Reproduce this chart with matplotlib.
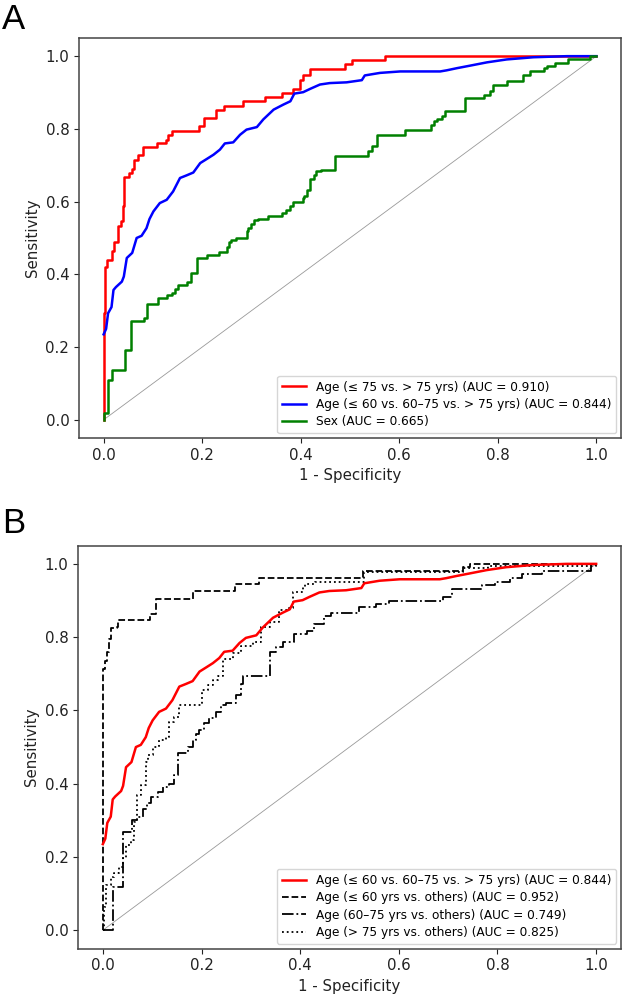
import numpy as np
import matplotlib
matplotlib.use("Agg")
import matplotlib.pyplot as plt

# ROC points (1 - specificity, sensitivity)
age75_fpr = [0, 0, 0.003, 0.007, 0.016, 0.021, 0.030, 0.035, 0.040, 0.042, 0.052, 0.057, 0.062, 0.070, 0.080,
             0.108, 0.126, 0.131, 0.138, 0.194, 0.204, 0.228, 0.245, 0.282, 0.327, 0.363, 0.385, 0.399, 0.405,
             0.419, 0.490, 0.504, 0.571, 1.0]
age75_tpr = [0, 0.293, 0.42, 0.44, 0.465, 0.488, 0.532, 0.546, 0.589, 0.669, 0.678, 0.690, 0.715, 0.727, 0.749,
             0.760, 0.770, 0.784, 0.795, 0.809, 0.829, 0.853, 0.864, 0.876, 0.887, 0.899, 0.910, 0.934, 0.947,
             0.966, 0.979, 0.990, 1.0, 1.0]

age3_fpr = [0, 0.005, 0.009, 0.016, 0.020, 0.025, 0.037, 0.041, 0.047, 0.058, 0.067, 0.077, 0.087, 0.093, 0.101,
            0.114, 0.128, 0.141, 0.155, 0.168, 0.182, 0.196, 0.209, 0.223, 0.236, 0.246, 0.263, 0.277, 0.290,
            0.311, 0.324, 0.345, 0.365, 0.379, 0.387, 0.405, 0.419, 0.439, 0.459, 0.493, 0.524, 0.530, 0.561,
            0.602, 0.683, 0.696, 0.717, 0.744, 0.778, 0.818, 0.872, 0.940, 1.0]
age3_tpr = [0.235, 0.250, 0.293, 0.310, 0.357, 0.365, 0.380, 0.394, 0.445, 0.459, 0.500, 0.506, 0.527, 0.552, 0.573,
            0.596, 0.605, 0.628, 0.665, 0.672, 0.680, 0.706, 0.717, 0.729, 0.743, 0.760, 0.763, 0.784, 0.798,
            0.805, 0.826, 0.853, 0.867, 0.876, 0.897, 0.901, 0.910, 0.922, 0.926, 0.928, 0.934, 0.947, 0.954,
            0.958, 0.958, 0.961, 0.967, 0.974, 0.983, 0.991, 0.997, 1.0, 1.0]

sex_fpr = [0, 0, 0.008, 0.016, 0.043, 0.055, 0.082, 0.089, 0.111, 0.128, 0.138, 0.145, 0.150, 0.169, 0.177, 0.189,
           0.209, 0.235, 0.250, 0.254, 0.258, 0.269, 0.290, 0.294, 0.300, 0.305, 0.314, 0.334, 0.361, 0.371, 0.378,
           0.385, 0.405, 0.407, 0.413, 0.419, 0.427, 0.432, 0.442, 0.470, 0.537, 0.544, 0.554, 0.612, 0.665, 0.670,
           0.676, 0.686, 0.693, 0.734, 0.771, 0.784, 0.791, 0.818, 0.852, 0.866, 0.893, 0.899, 0.916, 0.943, 0.987,
           1.0]
sex_tpr = [0, 0.020, 0.110, 0.137, 0.192, 0.272, 0.281, 0.319, 0.334, 0.343, 0.349, 0.361, 0.371, 0.380, 0.405, 0.444,
           0.452, 0.462, 0.475, 0.488, 0.495, 0.500, 0.518, 0.528, 0.539, 0.550, 0.553, 0.561, 0.570, 0.578, 0.589,
           0.598, 0.610, 0.615, 0.633, 0.662, 0.674, 0.683, 0.688, 0.725, 0.740, 0.752, 0.782, 0.796, 0.812, 0.821,
           0.826, 0.835, 0.849, 0.885, 0.894, 0.903, 0.922, 0.931, 0.949, 0.958, 0.968, 0.974, 0.981, 0.993, 1.0,
           1.0]

le60_fpr = [0, 0, 0.004, 0.009, 0.013, 0.016, 0.028, 0.030, 0.095, 0.107, 0.183, 0.267, 0.317, 0.527, 0.730, 0.744, 1.0]
le60_tpr = [0, 0.714, 0.736, 0.760, 0.795, 0.825, 0.829, 0.848, 0.864, 0.903, 0.925, 0.944, 0.962, 0.980, 0.992, 1.0, 1.0]

mid_fpr = [0, 0.020, 0.040, 0.060, 0.070, 0.081, 0.090, 0.098, 0.111, 0.121, 0.135, 0.145, 0.152, 0.172, 0.182,
           0.189, 0.195, 0.206, 0.216, 0.229, 0.240, 0.250, 0.270, 0.280, 0.285, 0.338, 0.352, 0.366, 0.387, 0.414,
           0.429, 0.449, 0.462, 0.520, 0.554, 0.581, 0.690, 0.707, 0.768, 0.795, 0.825, 0.849, 0.890, 0.990, 1.0]
mid_tpr = [0, 0.119, 0.269, 0.300, 0.309, 0.332, 0.346, 0.364, 0.378, 0.391, 0.400, 0.423, 0.485, 0.500, 0.520,
           0.535, 0.546, 0.566, 0.578, 0.596, 0.614, 0.620, 0.641, 0.673, 0.693, 0.759, 0.773, 0.787, 0.809, 0.816,
           0.836, 0.859, 0.866, 0.882, 0.891, 0.900, 0.909, 0.932, 0.941, 0.950, 0.962, 0.972, 0.980, 1.0, 1.0]

gt75_fpr = [0, 0.002, 0.006, 0.016, 0.023, 0.033, 0.040, 0.047, 0.057, 0.064, 0.070, 0.077, 0.087, 0.091, 0.101,
            0.114, 0.128, 0.134, 0.144, 0.155, 0.202, 0.213, 0.223, 0.233, 0.244, 0.263, 0.280, 0.304, 0.321, 0.338,
            0.358, 0.378, 0.385, 0.405, 0.410, 0.430, 0.530, 0.730, 0.780, 1.0]
gt75_tpr = [0, 0.064, 0.123, 0.146, 0.155, 0.173, 0.196, 0.232, 0.246, 0.296, 0.369, 0.396, 0.460, 0.478, 0.500,
            0.519, 0.528, 0.568, 0.582, 0.614, 0.655, 0.669, 0.683, 0.693, 0.741, 0.756, 0.777, 0.786, 0.829, 0.841,
            0.873, 0.880, 0.923, 0.936, 0.945, 0.950, 0.977, 0.990, 0.995, 1.0]

labels_a = ['Age (≤ 75 vs. > 75 yrs) (AUC = 0.910)',
            'Age (≤ 60 vs. 60–75 vs. > 75 yrs) (AUC = 0.844)',
            'Sex (AUC = 0.665)']
labels_b = ['Age (≤ 60 vs. 60–75 vs. > 75 yrs) (AUC = 0.844)',
            'Age (≤ 60 yrs vs. others) (AUC = 0.952)',
            'Age (60–75 yrs vs. others) (AUC = 0.749)',
            'Age (> 75 yrs vs. others) (AUC = 0.825)']

plt.rcParams['font.family'] = 'DejaVu Sans'

fig = plt.figure(figsize=(6.23, 9.97), dpi=100)
ax_a = fig.add_axes([0.1268, 0.5607, 0.870, 0.4012])
ax_b = fig.add_axes([0.1255, 0.0486, 0.871, 0.4042])


def style_axes(ax):
    ax.plot([0, 1], [0, 1], color='#999999', lw=0.6, zorder=1)
    ax.set_xlim(-0.05, 1.05)
    ax.set_ylim(-0.05, 1.05)
    ax.set_xticks(np.arange(0, 1.01, 0.2))
    ax.set_yticks(np.arange(0, 1.01, 0.2))
    ax.tick_params(labelsize=10.8, colors='#222222')
    ax.set_xlabel('1 - Specificity', fontsize=10.8, color='#222222')
    ax.set_ylabel('Sensitivity', fontsize=10.8, color='#222222')
    for sp in ax.spines.values():
        sp.set_color('#444444')
        sp.set_linewidth(1.1)


# Panel A
ax_a.plot(age75_fpr, age75_tpr, color='red', lw=1.8, drawstyle='steps-post', label=labels_a[0], zorder=3)
ax_a.plot(age3_fpr, age3_tpr, color='blue', lw=1.8, label=labels_a[1], zorder=3)
ax_a.plot(sex_fpr, sex_tpr, color='green', lw=1.8, drawstyle='steps-post', label=labels_a[2], zorder=4)
style_axes(ax_a)
ax_a.legend(loc='lower right', fontsize=8.7, labelspacing=0.36, borderaxespad=0.4)

# Panel B
ax_b.plot(age3_fpr, age3_tpr, color='red', lw=1.8, label=labels_b[0], zorder=4)
ax_b.plot(le60_fpr, le60_tpr, color='black', lw=1.3, ls='--', drawstyle='steps-post', label=labels_b[1], zorder=3)
ax_b.plot(mid_fpr, mid_tpr, color='black', lw=1.3, ls='-.', drawstyle='steps-post', label=labels_b[2], zorder=3)
ax_b.plot(gt75_fpr, gt75_tpr, color='black', lw=1.3, ls=':', drawstyle='steps-post', label=labels_b[3], zorder=3)
style_axes(ax_b)
ax_b.legend(loc='lower right', fontsize=8.7, labelspacing=0.36, borderaxespad=0.4)

fig.text(0.003, 0.997, 'A', fontsize=25, family='Liberation Sans', va='top', ha='left')
fig.text(0.003, 0.491, 'B', fontsize=25, family='Liberation Sans', va='top', ha='left')

fig.savefig('out.png', dpi=100)
